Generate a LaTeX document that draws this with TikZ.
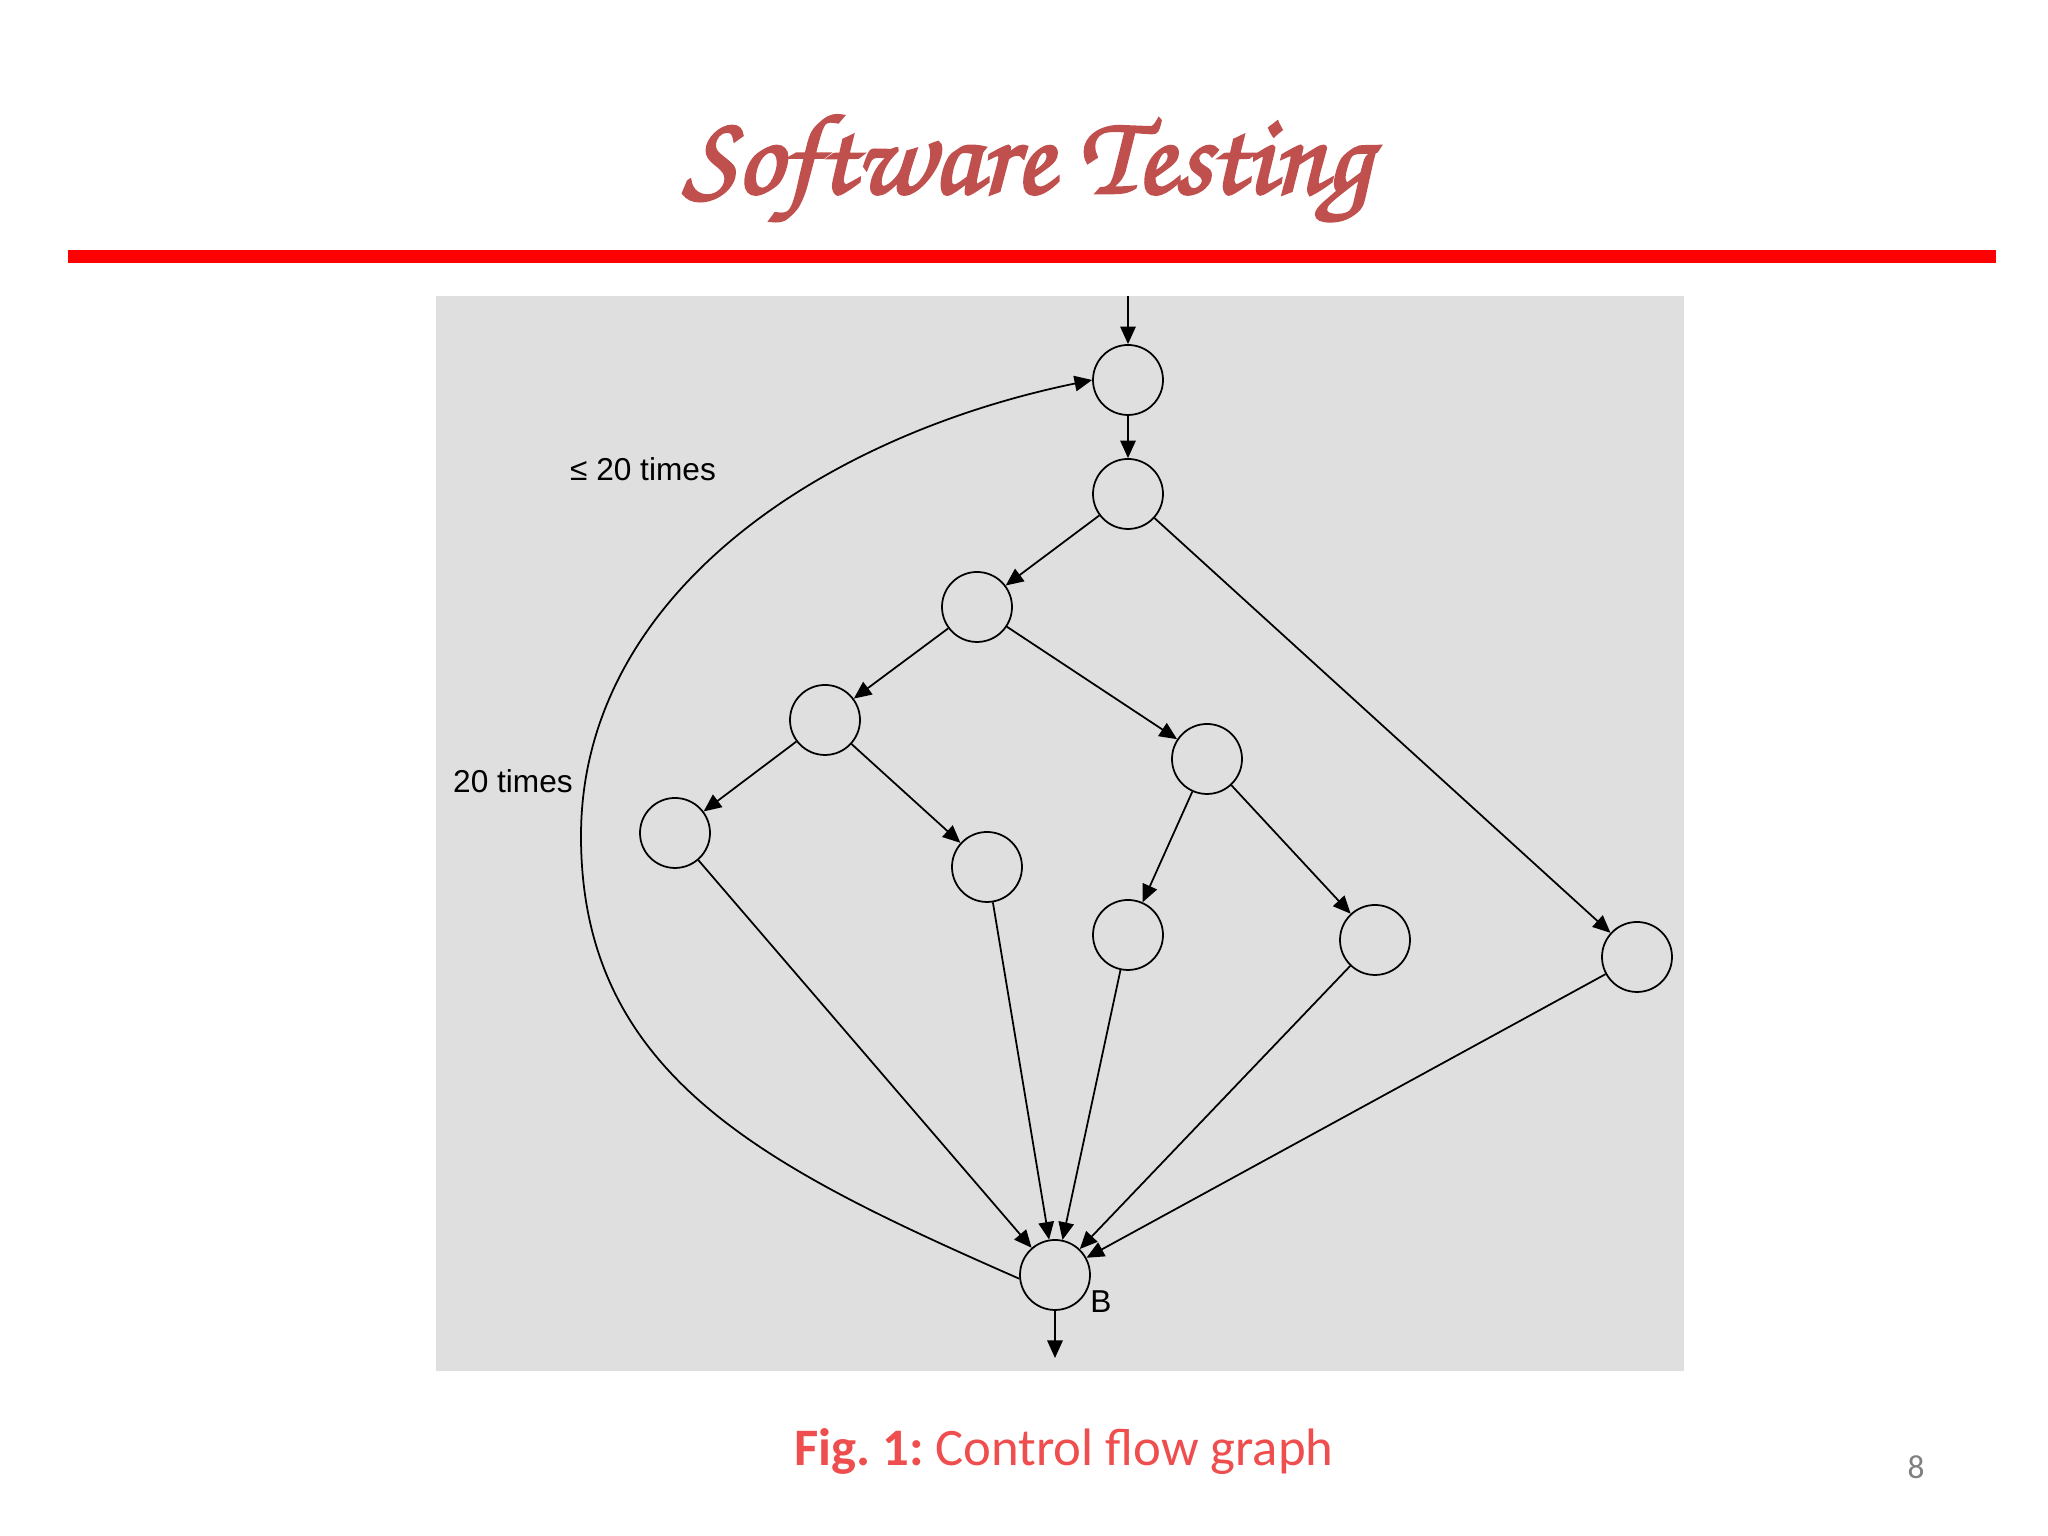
\documentclass[tikz,border=0pt]{standalone}
\usepackage{fontspec}
\setmainfont{Liberation Sans}
\newfontfamily\captionfont{Carlito}
\newfontfamily\titlefont[FakeBold=2.5]{texgyrechorus-mediumitalic.otf}
\usetikzlibrary{arrows.meta}
\definecolor{titlered}{RGB}{192,80,77}
\definecolor{capred}{RGB}{238,78,78}
\definecolor{boxgray}{RGB}{223,223,223}
\frenchspacing

\begin{document}
\begin{tikzpicture}[line width=0.5pt, >={Triangle[length=5pt,width=4.4pt]},
  vertex/.style={circle, draw, minimum size=0.7cm, inner sep=0pt},
  lbl/.style={font=\fontsize{9}{11}\selectfont}]

\useasboundingbox (0,0) rectangle (20.48,15.36);

\node[anchor=base, text=titlered, font=\titlefont\fontsize{32.5}{36}\selectfont] (title) at (10.27,13.43) {Software Testing};
\draw[red, line width=3.7pt] (0.68,12.79)--(19.96,12.79);

\fill[boxgray] (4.36,1.65) rectangle (16.84,12.40);

\node[vertex] (n1) at (11.28,11.56) {};
\node[vertex] (n2) at (11.28,10.42) {};
\node[vertex] (n3) at (9.77,9.29) {};
\node[vertex] (n4) at (8.25,8.16) {};
\node[vertex] (n5) at (12.07,7.77) {};
\node[vertex] (n6) at (6.75,7.03) {};
\node[vertex] (n7) at (9.87,6.69) {};
\node[vertex] (n8) at (11.28,6.01) {};
\node[vertex] (n9) at (13.75,5.96) {};
\node[vertex] (n10) at (16.37,5.79) {};
\node[vertex] (B) at (10.55,2.61) {};
\node[lbl] (blabel) at (11.01,2.34) {B};

\coordinate (in) at (11.28,12.40);
\coordinate (out) at (10.55,1.78);

\draw[->] (in)--(n1);
\draw[->] (n1)--(n2);
\foreach \a/\b in {n2/n3,n2/n10,n3/n4,n3/n5,n4/n6,n4/n7,n5/n8,n5/n9,n6/B,n7/B,n8/B,n9/B,n10/B}{
	\draw[->] (\a)--(\b);
}
\draw[->] (B)--(out);

% loop back
\draw[->] (B.186) .. controls (7.65,3.69) and (5.81,4.6) .. (5.81,7.0)
	.. controls (5.81,9.4) and (8.2,11.0) .. (n1.west);

\node[lbl] (most) at (6.43,10.67) {≤ 20 times};
\node[lbl] (exact) at (5.13,7.55) {20 times};

\node[anchor=base, text=capred, font=\captionfont\fontsize{15}{18}\selectfont] (caption) at (10.64,0.70) {\textbf{Fig. 1:} Control flow graph};
\node[anchor=base, text=gray, font=\captionfont\fontsize{9.5}{11}\selectfont] (page) at (19.16,0.57) {8};

\end{tikzpicture}
\end{document}
